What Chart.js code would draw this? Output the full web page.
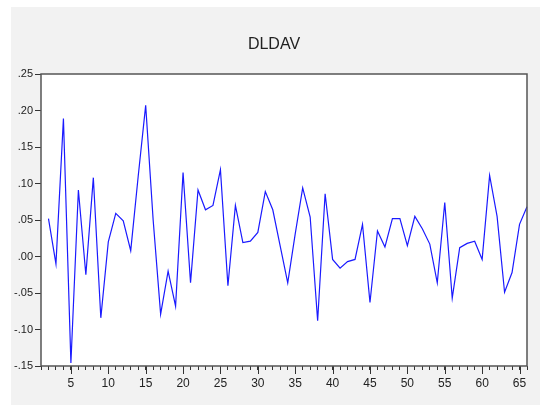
<!DOCTYPE html>
<html>
<head>
<meta charset="utf-8">
<script src="https://cdn.jsdelivr.net/npm/chart.js@4.4.1/dist/chart.umd.min.js"></script>
<style>
  html, body { margin: 0; padding: 0; background: #ffffff; }
  #wrap { position: absolute; left: 11px; top: 7px; width: 529px; height: 398px; background: #f2f2f2; }
</style>
</head>
<body>
<div id="wrap"><canvas id="dldavChart" width="529" height="398"></canvas></div>
<script>
const chartTitle = 'DLDAV';

// observation numbers 1..66 (obs 1 is lost to differencing)
const obs = Array.from({ length: 66 }, (_, i) => i + 1);

const dldav = [
  null, 0.052, -0.010, 0.189, -0.146, 0.091, -0.025, 0.108, -0.084, 0.020,
  0.059, 0.049, 0.008, 0.110, 0.207, 0.050, -0.079, -0.020, -0.068, 0.115,
  -0.036, 0.091, 0.064, 0.070, 0.119, -0.040, 0.070, 0.019, 0.021, 0.033,
  0.089, 0.064, 0.014, -0.036, 0.031, 0.094, 0.054, -0.088, 0.086, -0.004,
  -0.016, -0.007, -0.004, 0.044, -0.063, 0.035, 0.013, 0.052, 0.052, 0.015,
  0.055, 0.038, 0.017, -0.036, 0.074, -0.057, 0.012, 0.018, 0.021, -0.004,
  0.111, 0.055, -0.049, -0.022, 0.044, 0.068
];

const yTicks = [-0.15, -0.10, -0.05, 0.00, 0.05, 0.10, 0.15, 0.20, 0.25];

// EViews style: drop the leading zero, ".05" / "-.10"
const fmtY = v => {
  const s = Math.abs(v).toFixed(2).replace(/^0/, '');
  return (v < -1e-9 ? '-' : '') + s;
};

// title, frame round the plot area and longer ticks at every 5th obs
const framePlugin = {
  id: 'frame',
  afterDraw(chart) {
    const { ctx, chartArea: a, scales } = chart;
    ctx.save();
    ctx.fillStyle = '#222222';
    ctx.font = '16px "Liberation Sans", Arial, sans-serif';
    ctx.textAlign = 'center';
    ctx.textBaseline = 'middle';
    ctx.fillText(chartTitle, 263, 37.5);

    ctx.strokeStyle = '#333333';
    ctx.lineWidth = 1;
    obs.forEach((o, i) => {
      if (o % 5 === 0) {
        const x = Math.round(scales.x.getPixelForValue(i)) + 0.5;
        ctx.beginPath();
        ctx.moveTo(x, a.bottom);
        ctx.lineTo(x, a.bottom + 8);
        ctx.stroke();
      }
    });
    ctx.strokeStyle = '#555555';
    ctx.lineWidth = 1.5;
    ctx.strokeRect(a.left, a.top, a.right - a.left, a.bottom - a.top);
    ctx.restore();
  }
};

const plotBg = {
  id: 'plotBg',
  beforeDatasetsDraw(chart) {
    const { ctx, chartArea: a } = chart;
    ctx.save();
    ctx.fillStyle = '#ffffff';
    ctx.fillRect(a.left, a.top, a.right - a.left, a.bottom - a.top);
    ctx.restore();
  }
};

new Chart(document.getElementById('dldavChart'), {
  type: 'line',
  data: {
    labels: obs,
    datasets: [{
      label: chartTitle,
      data: dldav,
      borderColor: '#1a1aff',
      borderWidth: 1.2,
      pointRadius: 0,
      tension: 0,
      fill: false
    }]
  },
  options: {
    responsive: false,
    animation: false,
    layout: { padding: { left: 0, top: 67, right: 13, bottom: 0 } },
    plugins: {
      legend: { display: false },
      tooltip: { enabled: false },
      title: { display: false }
    },
    scales: {
      x: {
        type: 'category',
        offset: false,
        border: { display: false },
        grid: { drawOnChartArea: false, drawTicks: true, tickLength: 4, tickColor: '#333333' },
        ticks: {
          autoSkip: false,
          maxRotation: 0,
          padding: 6,
          color: '#222222',
          font: { family: 'Liberation Sans, Arial, sans-serif', size: 12 },
          callback: (val, i) => (obs[i] % 5 === 0 ? String(obs[i]) : '')
        },
        afterFit: s => { s.height = 39; }
      },
      y: {
        min: -0.15,
        max: 0.25,
        border: { display: false },
        grid: { drawOnChartArea: false, drawTicks: true, tickLength: 6, tickColor: '#333333' },
        afterBuildTicks: s => { s.ticks = yTicks.map(v => ({ value: v })); },
        ticks: {
          padding: 2,
          color: '#222222',
          font: { family: 'Liberation Sans, Arial, sans-serif', size: 11 },
          callback: v => fmtY(v)
        },
        afterFit: s => { s.width = 30; }
      }
    }
  },
  plugins: [plotBg, framePlugin]
});
</script>
</body>
</html>
